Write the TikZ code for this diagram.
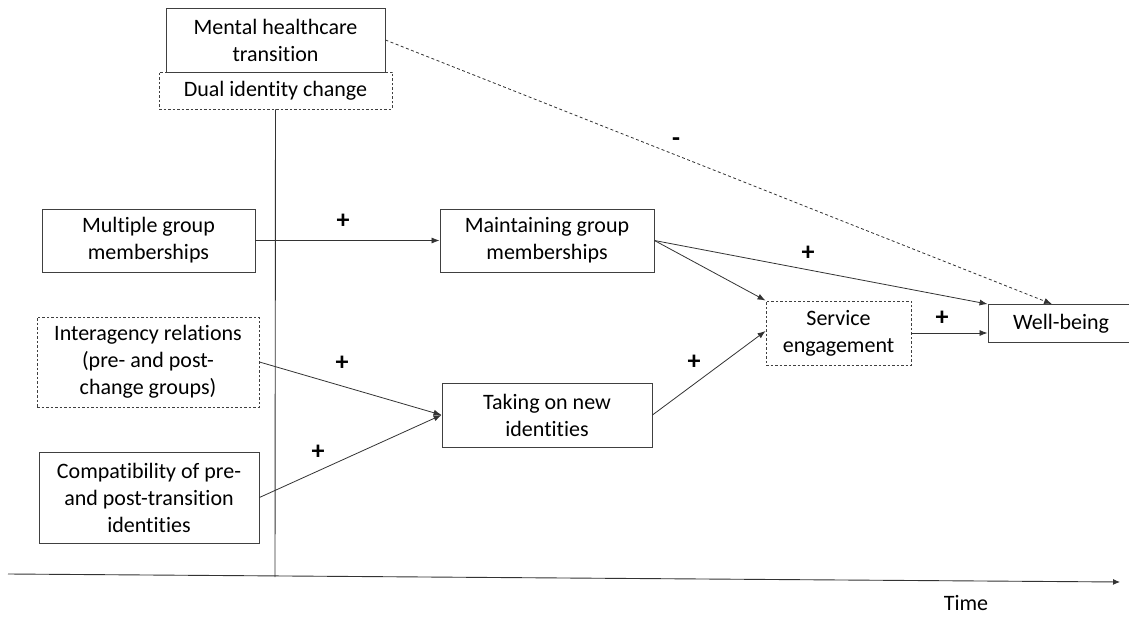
\documentclass[tikz,border=0pt]{standalone}
\usepackage{fontspec}
\setmainfont{Carlito}[Ligatures=NoCommon]
\usetikzlibrary{arrows.meta}
\begin{document}
\begin{tikzpicture}[x=1pt,y=-1pt,
  every node/.style={font=\fontsize{22}{27}\selectfont, text=black},
  box/.style={draw=black!75, line width=0.9pt, rectangle, align=center, inner sep=0pt},
  dbox/.style={box, dash pattern=on 2.5pt off 2pt},
  conn/.style={draw=black!80, line width=0.8pt, -{Latex[length=8pt,width=6pt]}},
  sign/.style={font=\fontsize{26}{28}\selectfont\bfseries}]
\useasboundingbox (0,0) rectangle (1129,617);
\fill[white] (0,0) rectangle (1129,617);
% boxes
\node[box, minimum width=219pt, minimum height=64pt] (mht) at (275.5,40) {Mental healthcare\\transition};
\node[dbox, minimum width=233pt, minimum height=37pt] (dic) at (275.5,90.5) {Dual identity change};
\node[box, minimum width=213pt, minimum height=63pt] (mgm) at (148.5,240.5) {Multiple group\\memberships};
\node[dbox, minimum width=222pt, minimum height=90pt] (ir) at (148,362) {Interagency relations\\(pre- and post-\\change groups)};
\node[box, minimum width=220pt, minimum height=91pt] (cp) at (149,497.5) {Compatibility of pre-\\and post-transition\\identities};
\node[box, minimum width=214pt, minimum height=63pt] (mt) at (547,240.5) {Maintaining group\\memberships};
\node[box, minimum width=210pt, minimum height=64pt] (tn) at (547,415) {Taking on new\\identities};
\node[dbox, minimum width=145pt, minimum height=64pt] (se) at (838.5,333) {Service\\engagement};
\node[box, minimum width=146pt, minimum height=38pt, text width=142pt] (wb) at (1061,323.5) {Well-being};
% time axis and divider
\coordinate (t0) at (8,574);
\coordinate (t1) at (1120,582);
\coordinate (vb) at (275,577);
\draw[black!80, line width=0.9pt, -{Latex[length=7pt,width=6pt]}] (t0) -- (t1);
\node (time) at (966,603) {Time};
\draw[black!80, line width=0.9pt] (dic.south) -- (vb);
% connectors
\draw[conn] (mgm.east) -- (mt.west);
\draw[conn] (ir.east) -- (tn.west);
\draw[conn] (cp.east) -- (tn.west);
\draw[conn] (mt.east) -- (se.north west);
\draw[conn] (mt.east) -- (wb.north west);
\draw[conn] (tn.east) -- ([yshift=2pt]se.west);
\draw[conn] (se.east) -- (se.east -| wb.west);
\draw[black!80, line width=0.8pt, dash pattern=on 3pt off 2.5pt, -{Latex[length=8pt,width=6pt]}] (mht.east) -- ([xshift=-9pt]wb.north);
% signs
\node[sign] (s1) at (343,221) {+};
\node[sign] (s2) at (342,363) {+};
\node[sign] (s3) at (318,452) {+};
\node[sign] (s4) at (808,253) {+};
\node[sign] (s5) at (694,362) {+};
\node[sign] (s6) at (942,318) {+};
\node[sign] (s7) at (676,142) {-};
\end{tikzpicture}
\end{document}
